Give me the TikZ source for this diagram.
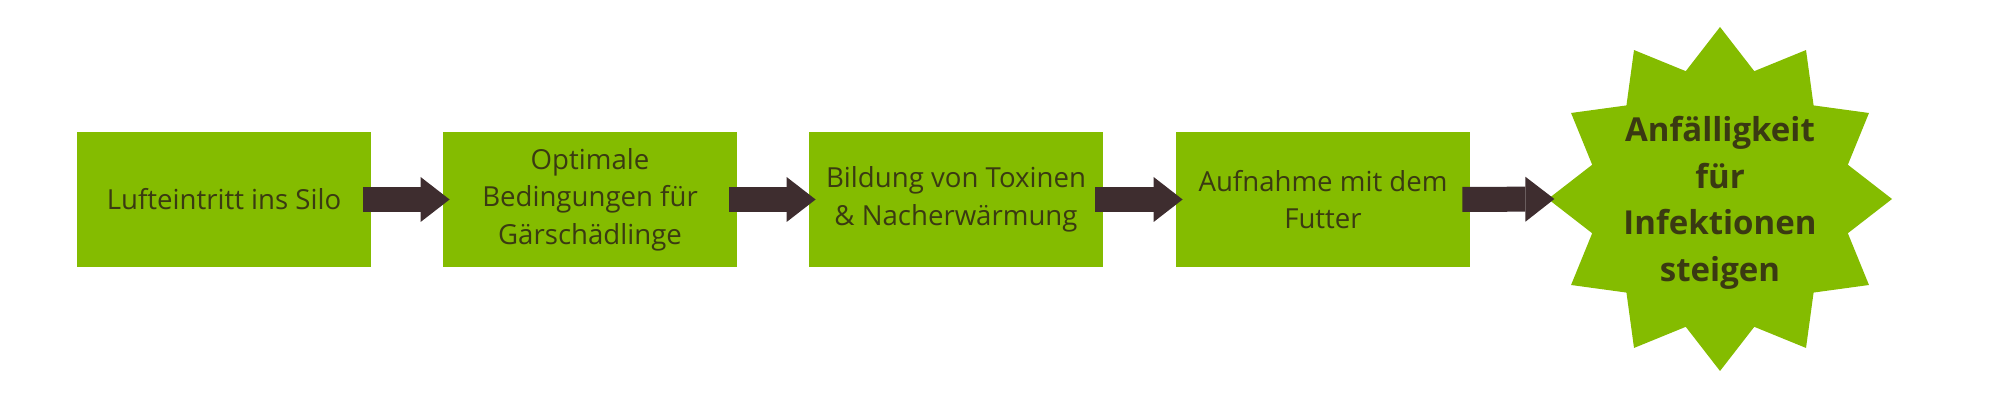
\documentclass[tikz,border=0pt]{standalone}
\usepackage{fontspec}
\setmainfont{Open Sans}
\usetikzlibrary{shapes.geometric, arrows.meta}
\definecolor{leafgreen}{HTML}{84BC00}
\definecolor{arrowbrown}{HTML}{3E2D2F}
\definecolor{textolive}{HTML}{3A3A12}

\begin{document}
\begin{tikzpicture}[x=0.5pt, y=0.5pt,
    stepbox/.style={fill=leafgreen, minimum width=147pt, minimum height=67.5pt,
        inner sep=0pt, align=center, text=textolive,
        font=\fontsize{13.8pt}{18.7pt}\selectfont},
    burst/.style={star, star points=12, star point ratio=1.3, minimum size=172pt,
        inner sep=0pt, fill=leafgreen},
    bursttext/.style={align=center, text=textolive, yshift=-2pt,
        font=\fontsize{16.5pt}{23.3pt}\selectfont\bfseries},
    fatarrow/.style={draw=arrowbrown, line width=12.5pt,
        -{Triangle[length=14.5pt, width=22.5pt, line width=0pt]}}]
    % the frame of the whole picture
    \useasboundingbox (0,0) rectangle (2000,400);

    % the four green boxes
    \node[stepbox] (luft) at (224,200.5) {Lufteintritt ins Silo};
    \node[stepbox] (bedingung) at (590,200.5) {Optimale\\Bedingungen für\\Gärschädlinge};
    \node[stepbox] (toxine) at (956,200.5) {Bildung von Toxinen\\\& Nacherwärmung};
    \node[stepbox] (futter) at (1323,200.5) {Aufnahme mit dem\\Futter};

    % the star at the end, its text as a centred label
    \node[burst, label={[bursttext]center:{Anfälligkeit\\für\\Infektionen\\steigen}}]
        (infektion) at (1720,201) {};

    % the fat arrows between the boxes
    \draw[fatarrow] ([xshift=-4pt]luft.east) -- ([xshift=3.5pt]bedingung.west);
    \draw[fatarrow] ([xshift=-4pt]bedingung.east) -- ([xshift=3.5pt]toxine.west);
    \draw[fatarrow] ([xshift=-4pt]toxine.east) -- ([xshift=3.5pt]futter.west);
    \draw[fatarrow] ([xshift=-4pt]futter.east) -- ([xshift=3.5pt]infektion.west);
\end{tikzpicture}
\end{document}
